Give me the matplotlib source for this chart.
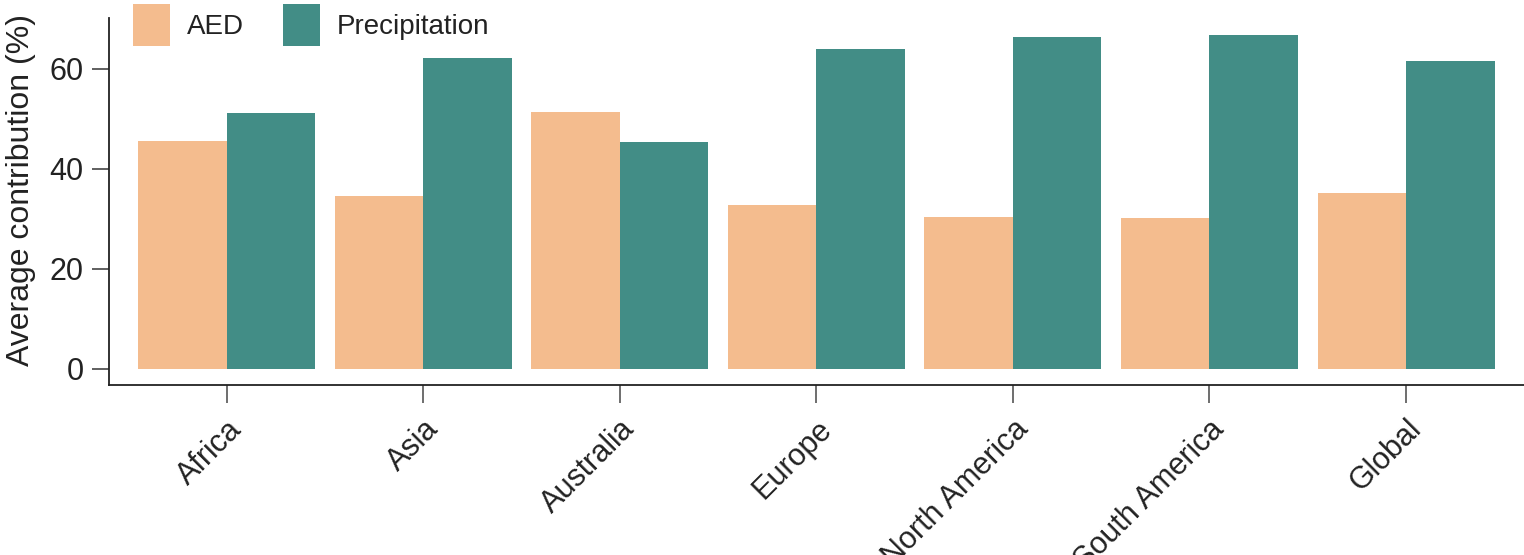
import matplotlib
matplotlib.use("Agg")
import matplotlib.pyplot as plt
import numpy as np

regions = ["Africa", "Asia", "Australia", "Europe", "North America", "South America", "Global"]
aed = [45.5, 34.5, 51.3, 32.7, 30.3, 30.1, 35.2]
precipitation = [51.2, 62.2, 45.3, 63.9, 66.3, 66.7, 61.6]
yticks = [0, 20, 40, 60]

plt.rcParams['font.family'] = ['Liberation Sans', 'DejaVu Sans']

fig = plt.figure(figsize=(15.24, 5.55), dpi=100)
ax = fig.add_axes([0.0713, 0.3063, 0.9287, 0.6613])

x = np.arange(len(regions))
w = 0.45
ax.bar(x - w/2, aed, width=w, color="#F4BC8E", label="AED")
ax.bar(x + w/2, precipitation, width=w, color="#428D86", label="Precipitation")

FS = 22
ax.set_xlim(-0.6, 6.6)
ax.set_ylim(-3.3, 70.2)
ax.set_yticks(yticks)
ax.set_xticks(x)
ax.set_xticklabels(regions, rotation=45, ha="right", va="top", rotation_mode="anchor", fontsize=FS, color="#222222")
ax.tick_params(axis="y", labelsize=FS, length=12, width=1.2, colors="#444444", labelcolor="#222222", pad=6)
ax.tick_params(axis="x", length=13, width=1.2, colors="#555555", labelcolor="#222222", pad=8)
for s in ["top", "right"]:
    ax.spines[s].set_visible(False)
for s in ["left", "bottom"]:
    ax.spines[s].set_linewidth(1.3)
    ax.spines[s].set_color("#222222")

ax.set_ylabel("Average contribution (%)", fontsize=23, color="#222222")
ax.yaxis.set_label_coords(-0.051, 0.53)

leg = ax.legend(loc="upper left", bbox_to_anchor=(133/1524, 1 - 4/555), bbox_transform=fig.transFigure,
                ncol=2, frameon=False, fontsize=20,
                handlelength=1.33, handleheight=1.95, handletextpad=0.61, columnspacing=1.4,
                borderaxespad=0.0, borderpad=0.0)
for t in leg.get_texts():
    t.set_color("#222222")

fig.savefig("out.png", dpi=100)
